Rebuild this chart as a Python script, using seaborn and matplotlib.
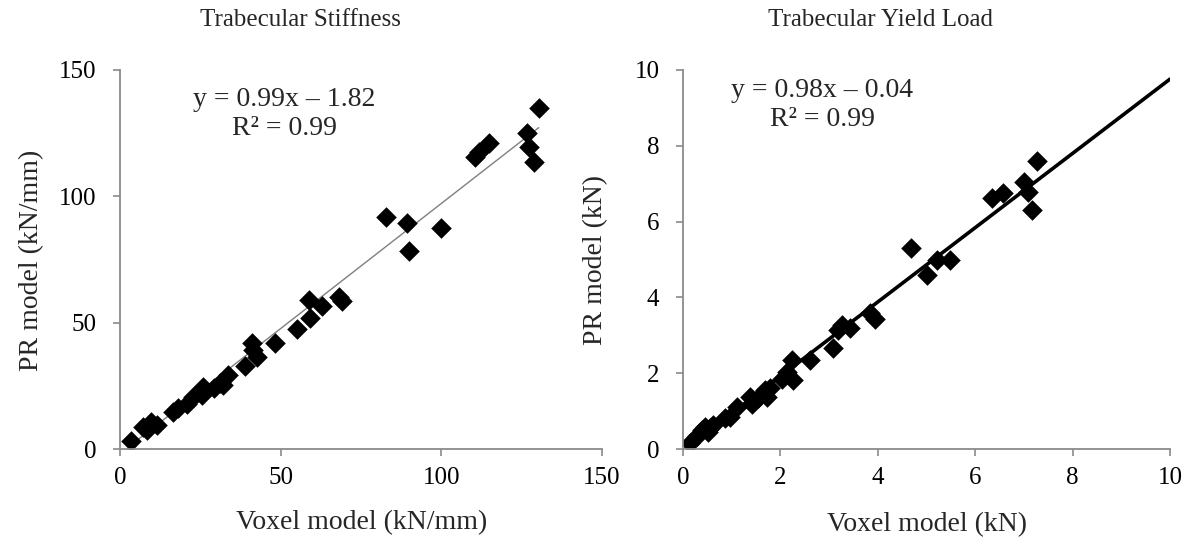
import numpy as np
import pandas as pd
import matplotlib
matplotlib.use("Agg")
import matplotlib.pyplot as plt
import seaborn as sns

# ---- data: Trabecular Stiffness (kN/mm) ----
stiff_voxel = [3.3, 7.3, 8.3, 9.8, 11.4, 16.6, 18.2, 20.7, 22.8, 24.9, 25.4, 25.9,
               29.1, 31.2, 32.2, 33.7, 38.9, 41.0, 41.5, 42.6, 48.3, 55.0, 58.7,
               59.2, 62.8, 68.3, 69.2, 82.9, 89.3, 89.8, 100.0, 110.6, 111.6,
               114.7, 126.7, 127.2, 128.7, 130.3]
stiff_pr = [3.3, 8.8, 7.5, 10.8, 9.5, 14.8, 16.1, 18.0, 20.7, 22.7, 21.4, 24.7,
            24.0, 26.0, 25.3, 29.3, 32.8, 41.8, 39.2, 36.5, 41.8, 47.4, 59.0,
            51.7, 56.7, 60.3, 58.5, 91.7, 89.3, 78.4, 87.6, 115.7, 117.6,
            121.0, 124.9, 119.6, 113.7, 134.8]
stiff_fit = {"slope": 0.99, "intercept": -1.82}

# ---- data: Trabecular Yield Load (kN) ----
yield_voxel = [0.14, 0.28, 0.38, 0.45, 0.52, 0.55, 0.62, 0.86, 0.97, 1.10, 1.38,
               1.41, 1.55, 1.68, 1.72, 1.79, 2.03, 2.13, 2.23, 2.25, 2.61, 3.09,
               3.19, 3.26, 3.43, 3.84, 3.94, 4.68, 5.00, 5.21, 5.48, 6.34, 6.58,
               7.00, 7.09, 7.16, 7.26]
yield_pr = [0.15, 0.33, 0.50, 0.59, 0.46, 0.55, 0.63, 0.81, 0.85, 1.12, 1.38,
            1.20, 1.34, 1.56, 1.38, 1.60, 1.86, 2.04, 2.35, 1.82, 2.35, 2.66,
            3.14, 3.27, 3.18, 3.58, 3.42, 5.30, 4.59, 4.99, 4.99, 6.61, 6.75,
            7.05, 6.79, 6.31, 7.61]
yield_fit = {"slope": 0.98, "intercept": -0.04}

titles = ["Trabecular Stiffness", "Trabecular Yield Load"]
xlabels = ["Voxel model (kN/mm)", "Voxel model (kN)"]
ylabels = ["PR model (kN/mm)", "PR model (kN)"]
eq_texts = ["y = 0.99x \u2013 1.82\nR\u00b2 = 0.99", "y = 0.98x \u2013 0.04\nR\u00b2 = 0.99"]
left_ticks = [0, 50, 100, 150]
right_ticks = [0, 2, 4, 6, 8, 10]

sns.set_theme(style="white")
plt.rcParams["font.family"] = ["Liberation Serif", "DejaVu Serif"]

W, H = 1194, 546
fig = plt.figure(figsize=(W / 100, H / 100), dpi=100)
fig.patch.set_facecolor("white")

def ax_rect(x0, x1, y0, y1):
    return [x0 / W, 1 - y1 / H, (x1 - x0) / W, (y1 - y0) / H]

ax1 = fig.add_axes(ax_rect(120, 602, 70, 449))
ax2 = fig.add_axes(ax_rect(683, 1170, 70, 449))

grey = "#8a8a8a"

def style(ax, ticks):
    ax.set_xlim(ticks[0], ticks[-1])
    ax.set_ylim(ticks[0], ticks[-1])
    ax.set_xticks(ticks)
    ax.set_yticks(ticks)
    for s in ["top", "right"]:
        ax.spines[s].set_visible(False)
    for s in ["left", "bottom"]:
        ax.spines[s].set_color(grey)
        ax.spines[s].set_linewidth(1.3)
    ax.tick_params(axis="both", direction="out", length=5, width=1.2, color=grey,
                   labelsize=18, labelcolor="black", bottom=True, left=True)
    ax.tick_params(axis="x", pad=8)
    ax.tick_params(axis="y", pad=12)
    ax.set_xlabel("")
    ax.set_ylabel("")
    ax.grid(False)

# Left panel
df1 = pd.DataFrame({"x": stiff_voxel, "y": stiff_pr})
xl = np.array([min(stiff_voxel), max(stiff_voxel)])
line1 = pd.DataFrame({"x": xl, "y": stiff_fit["slope"] * xl + stiff_fit["intercept"]})
sns.lineplot(data=line1, x="x", y="y", ax=ax1, color="#7f7f7f", linewidth=1.0, zorder=1)
sns.scatterplot(data=df1, x="x", y="y", ax=ax1, marker="D", s=110, color="black",
                edgecolor="black", linewidth=0, zorder=2)
style(ax1, left_ticks)

# Right panel
df2 = pd.DataFrame({"x": yield_voxel, "y": yield_pr})
xr = np.array([min(yield_voxel), right_ticks[-1]])
line2 = pd.DataFrame({"x": xr, "y": yield_fit["slope"] * xr + yield_fit["intercept"]})
sns.lineplot(data=line2, x="x", y="y", ax=ax2, color="black", linewidth=2.6, zorder=1)
sns.scatterplot(data=df2, x="x", y="y", ax=ax2, marker="D", s=110, color="black",
                edgecolor="black", linewidth=0, zorder=2)
style(ax2, right_ticks)

def ftext(x, y, s, **kw):
    fig.text(x / W, 1 - y / H, s, **kw)

ftext(300, 20, titles[0], ha="center", va="center", fontsize=18)
ftext(880, 20, titles[1], ha="center", va="center", fontsize=18)
ftext(362, 523, xlabels[0], ha="center", va="center", fontsize=20)
ftext(927, 525, xlabels[1], ha="center", va="center", fontsize=20)
ftext(32, 260, ylabels[0], ha="center", va="center", fontsize=20, rotation=90)
ftext(596, 260, ylabels[1], ha="center", va="center", fontsize=20, rotation=90)
ftext(284, 114, eq_texts[0], ha="center", va="center", fontsize=20, linespacing=1.2)
ftext(822, 105, eq_texts[1], ha="center", va="center", fontsize=20, linespacing=1.2)

fig.savefig("out.png", dpi=100, facecolor="white")
